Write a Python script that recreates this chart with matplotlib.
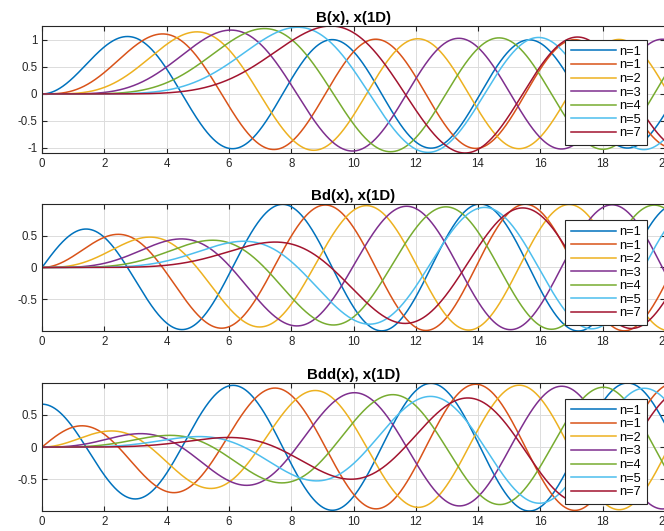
import numpy as np
import matplotlib
matplotlib.use('Agg')
import matplotlib.pyplot as plt
from matplotlib.ticker import FormatStrFormatter

plt.rcParams['font.family'] = ['Liberation Sans', 'DejaVu Sans']

# orders of the Riccati-Bessel functions and the legend text as it was written
orders = [1, 2, 3, 4, 5, 6, 7]
legend_labels = ['n=1', 'n=1', 'n=2', 'n=3', 'n=4', 'n=5', 'n=7']
titles = ['B(x), x(1D)', 'Bd(x), x(1D)', 'Bdd(x), x(1D)']
x_range = (0, 20)
x_ticks = [0, 2, 4, 6, 8, 10, 12, 14, 16, 18, 20]
y_ticks = [[-1, -0.5, 0, 0.5, 1], [-0.5, 0, 0.5], [-0.5, 0, 0.5]]

colors = ['#0072BD', '#D95319', '#EDB120', '#7E2F8E', '#77AC30', '#4DBEEE', '#A2142F']


def sph_jn(n, x):
    # series near the origin, upward recurrence further out
    out = np.zeros_like(x)
    small = x < 5
    xs = x[small]
    dfact = 1.0
    for m in range(1, 2 * n + 2, 2):
        dfact *= m
    term = xs ** n / dfact
    acc = term.copy()
    for k in range(1, 40):
        term = term * (-xs ** 2 / 2) / (k * (2 * n + 2 * k + 1))
        acc += term
    out[small] = acc
    xl = x[~small]
    j0 = np.sin(xl) / xl
    j1 = np.sin(xl) / xl ** 2 - np.cos(xl) / xl
    if n == 0:
        out[~small] = j0
        return out
    for k in range(1, n):
        j0, j1 = j1, (2 * k + 1) / xl * j1 - j0
    out[~small] = j1
    return out


x = np.linspace(x_range[0], x_range[1], 4001)
B, Bd, Bdd = [], [], []
for n in orders:
    s = x * sph_jn(n, x)
    sd = x * sph_jn(n - 1, x) - n * sph_jn(n, x)
    B.append(s)
    Bd.append(sd)
    Bdd.append(np.gradient(sd, x, edge_order=2))

fig = plt.figure(figsize=(6.64, 5.31), dpi=100)
W, H = 664, 531
# axes boxes in pixels: left, top, right, bottom
boxes = [(42, 26, 665, 153), (42, 204, 665, 331), (42, 383, 665, 511)]
leg_y = [0.476, 0.46, 0.465]

for i, (data, title) in enumerate(zip([B, Bd, Bdd], titles)):
    l, t, r, b = boxes[i]
    ax = fig.add_axes([l / W, 1 - b / H, (r - l) / W, (b - t) / H])
    for y, c, lab in zip(data, colors, legend_labels):
        ax.plot(x, y, color=c, lw=1.1, label=lab)
    lo = min(y.min() for y in data)
    hi = max(y.max() for y in data)
    ax.set_xlim(*x_range)
    ax.set_ylim(lo, hi)
    ax.set_xticks(x_ticks)
    ax.set_yticks(y_ticks[i])
    ax.yaxis.set_major_formatter(FormatStrFormatter('%g'))
    ax.grid(True, color='#dcdcdc', lw=0.7)
    ax.set_axisbelow(True)
    ax.tick_params(direction='in', top=True, right=True, length=3.5,
                   labelsize=8.3, colors='#262626', width=0.8)
    for sp in ax.spines.values():
        sp.set_color('#262626')
        sp.set_linewidth(0.8)
    ax.set_title(title, fontsize=10.8, fontweight='bold', pad=3)
    leg = ax.legend(loc='center right', bbox_to_anchor=(0.971, leg_y[i]),
                    fontsize=9.2, frameon=True, fancybox=False,
                    handlelength=3.5, handletextpad=0.3, labelspacing=0.12,
                    borderpad=0.45, borderaxespad=0)
    leg.get_frame().set_edgecolor('#262626')
    leg.get_frame().set_linewidth(0.8)
    leg.get_frame().set_alpha(1)

fig.savefig('out.png', dpi=100)
